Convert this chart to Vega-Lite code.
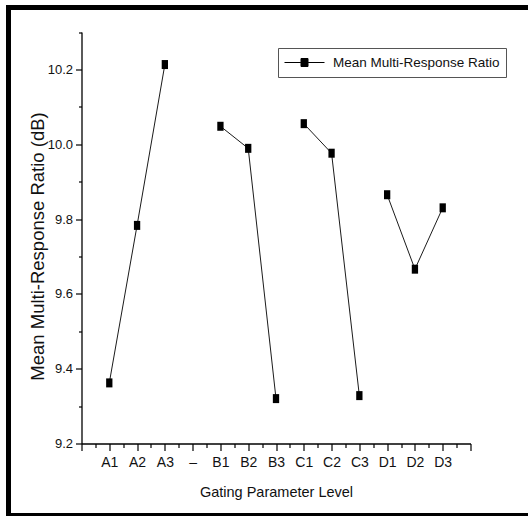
{
  "$schema": "https://vega.github.io/schema/vega-lite/v6.json",
  "autosize": "none",
  "padding": {"left": 8.5, "top": 7.5, "right": 0, "bottom": 0},
  "width": 519.5,
  "height": 508,
  "background": "white",
  "config": {
    "view": {"stroke": "black", "strokeWidth": 5, "strokeDash": [519.5, 508, 1100, 0]}
  },
  "data": {
    "values": [
      {"level": "A1", "pos": 1, "ratio": 9.362, "group": "A"},
      {"level": "A2", "pos": 2, "ratio": 9.783, "group": "A"},
      {"level": "A3", "pos": 3, "ratio": 10.213, "group": "A"},
      {"level": "B1", "pos": 5, "ratio": 10.048, "group": "B"},
      {"level": "B2", "pos": 6, "ratio": 9.989, "group": "B"},
      {"level": "B3", "pos": 7, "ratio": 9.32, "group": "B"},
      {"level": "C1", "pos": 8, "ratio": 10.055, "group": "C"},
      {"level": "C2", "pos": 9, "ratio": 9.976, "group": "C"},
      {"level": "C3", "pos": 10, "ratio": 9.328, "group": "C"},
      {"level": "D1", "pos": 11, "ratio": 9.865, "group": "D"},
      {"level": "D2", "pos": 12, "ratio": 9.666, "group": "D"},
      {"level": "D3", "pos": 13, "ratio": 9.83, "group": "D"}
    ]
  },
  "encoding": {
    "x": {
      "field": "pos",
      "type": "quantitative",
      "scale": {"domain": [0, 14], "range": [73, 462], "nice": false, "zero": false},
      "axis": {
        "title": "Gating Parameter Level",
        "values": [0, 0.5, 1, 1.5, 2, 2.5, 3, 3.5, 4, 4.5, 5, 5.5, 6, 6.5, 7, 7.5, 8, 8.5, 9, 9.5, 10, 10.5, 11, 11.5, 12, 12.5, 13, 13.5, 14],
        "labelExpr": "(['','A1','A2','A3','–','B1','B2','B3','C1','C2','C3','D1','D2','D3',''])[datum.value] || ''",
        "offset": -72,
        "grid": false,
        "domainColor": "black",
        "domainWidth": 1.3,
        "tickColor": "black",
        "tickWidth": 1.2,
        "tickSize": {"condition": {"test": "datum.value % 1 === 0", "value": 7}, "value": 4},
        "labelFont": "Liberation Sans",
        "labelFontSize": 14,
        "labelColor": "#111",
        "labelPadding": 5,
        "labelOverlap": false,
        "labelFlush": false,
        "titleFont": "Liberation Sans",
        "titleFontSize": 14.5,
        "titleFontWeight": "normal",
        "titleColor": "#111",
        "titlePadding": 16
      }
    },
    "y": {
      "field": "ratio",
      "type": "quantitative",
      "scale": {"domain": [9.2, 10.3], "range": [436, 24.5], "nice": false, "zero": false},
      "axis": {
        "title": "Mean Multi-Response Ratio (dB)",
        "values": [9.2, 9.3, 9.4, 9.5, 9.6, 9.7, 9.8, 9.9, 10.0, 10.1, 10.2, 10.3],
        "labelExpr": "round(datum.value * 10) % 2 === 0 ? format(datum.value, '.1f') : ''",
        "offset": -73,
        "grid": false,
        "domainColor": "black",
        "domainWidth": 1.3,
        "tickColor": "black",
        "tickWidth": 1.2,
        "tickSize": {"condition": {"test": "round(datum.value * 10) % 2 === 0", "value": 6}, "value": 3},
        "labelFont": "Liberation Sans",
        "labelFontSize": 13,
        "labelColor": "#111",
        "labelPadding": 3,
        "labelOverlap": false,
        "labelFlush": false,
        "titleFont": "Liberation Sans",
        "titleFontSize": 18.5,
        "titleFontWeight": "normal",
        "titleColor": "#111",
        "titlePadding": 0,
        "titleY": 238.5
      }
    },
    "detail": {"field": "group"},
    "color": {
      "datum": "Mean Multi-Response Ratio",
      "type": "nominal",
      "scale": {"range": ["black"]},
      "legend": {
        "title": null,
        "orient": "none",
        "legendX": 269.5,
        "legendY": 40.5,
        "strokeColor": "#555",
        "fillColor": "white",
        "padding": 6,
        "symbolType": "M-1,0H-0.18M0.18,0H1M-0.175,-0.2H0.175V0.2H-0.175Z",
        "symbolSize": 1600,
        "symbolStrokeWidth": 1,
        "symbolOpacity": 1,
        "symbolFillColor": "black",
        "symbolStrokeColor": "black",
        "labelFont": "Liberation Sans",
        "labelFontSize": 13.5,
        "labelColor": "#111",
        "labelOffset": 8,
        "labelLimit": 400,
        "clipHeight": 17
      }
    }
  },
  "layer": [
    {"mark": {"type": "line", "strokeWidth": 0.9}},
    {"mark": {"type": "point", "filled": true, "opacity": 1, "shape": "M-0.7,-1H0.7V1H-0.7Z", "size": 81}}
  ]
}
